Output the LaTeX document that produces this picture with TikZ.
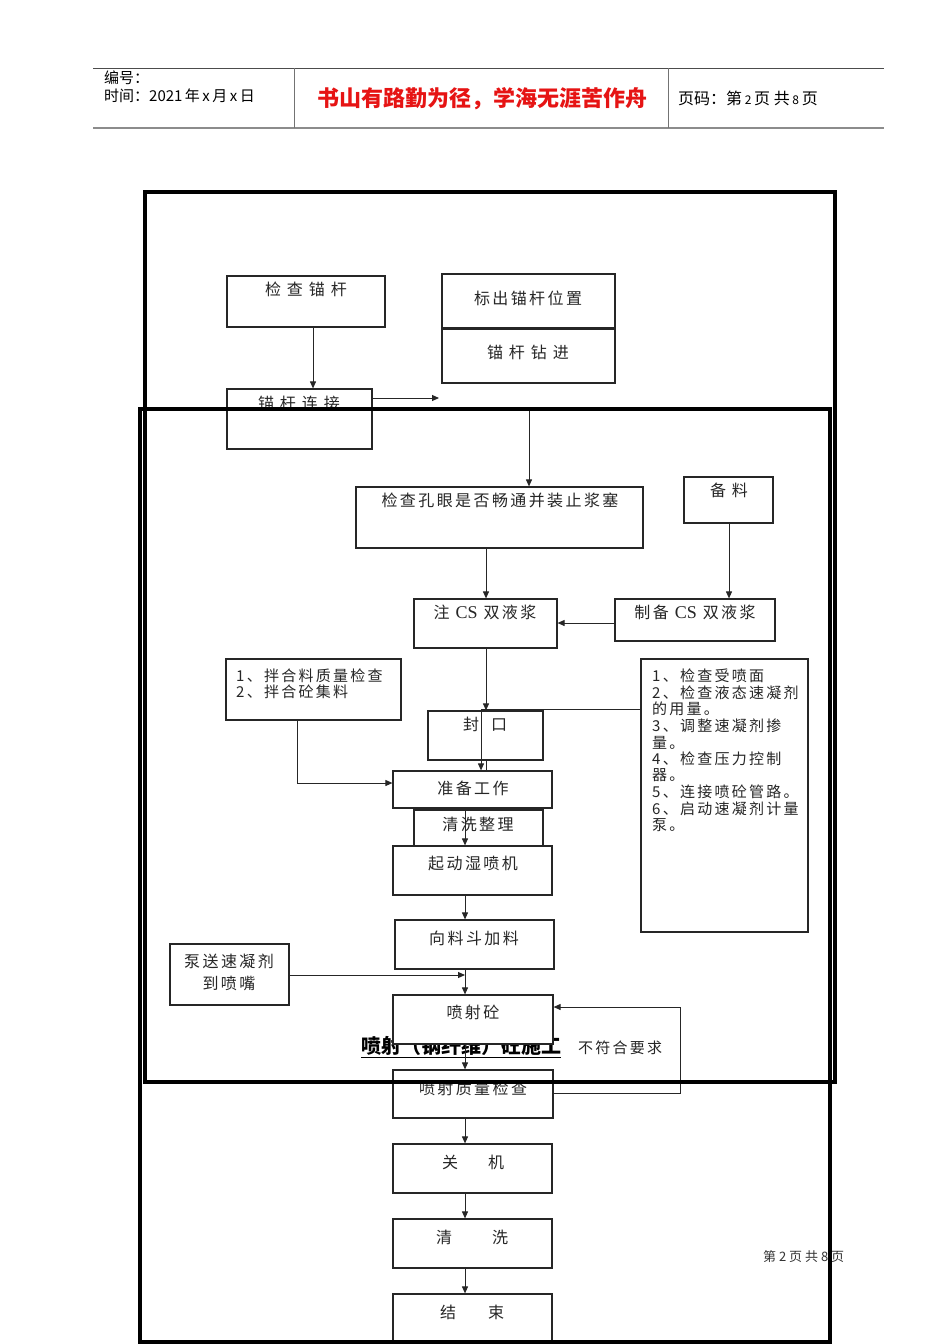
\documentclass[tikz,border=0pt]{standalone}
\usepackage{fontspec}
\setmainfont{Liberation Serif}
\newfontfamily\cjk[LetterSpace=15]{Noto Sans CJK SC}
\newfontfamily\cjkh{Noto Sans CJK SC}
\newfontfamily\lat{Liberation Serif}
\usetikzlibrary{arrows.meta}
\newcommand\bx[5]{\node[box, minimum width={#4-#2}, minimum height={#5-#3}] (#1) at ({(#2+#4)/2},{(#3+#5)/2}) {};}
\begin{document}
\begin{tikzpicture}[x=1pt,y=-1pt,
  box/.style={draw=black!85, line width=1.2pt, inner sep=0pt},
  arr/.style={-{Triangle[length=7pt,width=6pt]}, line width=1pt, draw=black!85},
  ln/.style={line width=1pt, draw=black!85},
  t/.style={font=\cjk\fontsize{16}{16}\selectfont, inner sep=0pt, text=black!85},
  ts/.style={font=\cjk\fontsize{15}{15}\selectfont, inner sep=0pt, text=black!85, anchor=west},
  frame/.style={line width=4pt, draw=black},
  hd/.style={font=\cjkh\fontsize{15}{15}\selectfont, inner sep=0pt, anchor=west}]
\useasboundingbox (0,0) rectangle (950,1344);
\fill[white] (0,0) rectangle (950,1344);

% header
\draw[black!70, line width=1pt] (93,68) -- (884,68);
\draw[black!45, line width=2pt] (93,128) -- (884,128);
\draw[black!55, line width=1pt] (294,68) -- (294,128);
\draw[black!55, line width=1pt] (668,68) -- (668,128);
\node[hd] (h1) at (104,78) {编号：};
\node[hd] (h2) at (104,96) {时间：2021\,年\,x\,月\,x\,日};
\node[font=\cjkh\bfseries\fontsize{22}{22}\selectfont, text={rgb,255:red,230;green,20;blue,20}, inner sep=0pt] (h3) at (482,99) {书山有路勤为径，学海无涯苦作舟};
\node[hd, font=\cjkh\fontsize{16}{16}\selectfont] (h4) at (678,98) {页码：第\,{\fontsize{12}{12}\selectfont 2}\,页 共\,{\fontsize{12}{12}\selectfont 8}\,页};

% lanes
\coordinate (L313) at (313,0);
\coordinate (L486) at (486,0);
\coordinate (L481) at (481,0);
\coordinate (L729) at (729,0);
\coordinate (L465) at (465,0);
\coordinate (L297) at (297,0);
\coordinate (L680) at (680,0);
\coordinate (Y398) at (0,398);
\coordinate (Y623) at (0,623);
\coordinate (Y709) at (0,709);
\coordinate (Y783) at (0,783);
\coordinate (Y975) at (0,975);
\coordinate (Y1007) at (0,1007);
\coordinate (Y1093) at (0,1093);
\coordinate (mgend) at (439,398);
\coordinate (gtop) at (529,411);

% title partly hidden
\node[font=\cjkh\bfseries\fontsize{20}{20}\selectfont, inner sep=0pt, anchor=west] (title) at (361,1047) {\underline{喷射（钢纤维）砼施工}};
\fill[white] (565,1033) rectangle (674,1062);
\node[ts] (bfh) at (578,1048) {不符合要求};

% boxes
\bx{jcmg}{227}{276}{385}{327}
\bx{bcwz}{442}{274}{615}{328}
\bx{mgzj}{442}{329}{615}{383}
\bx{mglj}{227}{389}{372}{449}
\bx{jcky}{356}{487}{643}{548}
\bx{bl}{684}{477}{773}{523}
\bx{zbcs}{615}{599}{775}{641}
\bx{zcs}{414}{599}{557}{648}
\bx{bhl}{226}{659}{401}{720}
\bx{rbox}{641}{659}{808}{932}
\bx{fk}{428}{711}{543}{760}
\bx{zbgz}{393}{771}{552}{808}
\bx{qxzl}{414}{810}{543}{846}
\bx{qdsp}{393}{846}{552}{895}
\bx{xldjl}{395}{920}{554}{969}
\bx{bssnj}{170}{944}{289}{1005}
\node[box, fill=white, minimum width=160, minimum height=49] (psc) at (473,1019.5) {};
\bx{pszl}{393}{1070}{553}{1118}
\bx{gj}{393}{1144}{552}{1193}
\bx{qx}{393}{1219}{552}{1268}
\bx{js}{393}{1294}{552}{1352}

% texts
\node[t] (t1) at (306,289) {检 查 锚 杆};
\node[t] (t2) at (528,298) {标出锚杆位置};
\node[t] (t3) at (528,352) {锚 杆 钻 进};
\node[t] (t4) at (299,403) {锚 杆 连 接};
\node[t] (t5) at (500,500) {检查孔眼是否畅通并装止浆塞};
\node[t] (t6) at (729,490) {备 料};
\node[t] (t7) at (695,612) {制备 {\lat\fontsize{18}{18}\selectfont CS} 双液浆};
\node[t] (t8) at (485,612) {注 {\lat\fontsize{18}{18}\selectfont CS} 双液浆};
\node[ts] (t9) at (236,676) {1、拌合料质量检查};
\node[ts] (t10) at (236,692) {2、拌合砼集料};
\node[ts] (r1) at (652,676) {1、检查受喷面};
\node[ts] (r2) at (652,692.6) {2、检查液态速凝剂};
\node[ts] (r3) at (652,709.2) {的用量。};
\node[ts] (r4) at (652,725.8) {3、调整速凝剂掺};
\node[ts] (r5) at (652,742.4) {量。};
\node[ts] (r6) at (652,759) {4、检查压力控制};
\node[ts] (r7) at (652,775.6) {器。};
\node[ts] (r8) at (652,792.2) {5、连接喷砼管路。};
\node[ts] (r9) at (652,808.8) {6、启动速凝剂计量};
\node[ts] (r10) at (652,825.4) {泵。};
\node[t] (t11) at (485,724) {封\hspace{12pt}口};
\node[t] (t12) at (473,788) {准备工作};
\node[t] (t13) at (478,824) {清洗整理};
\node[t] (t14) at (473,863) {起动湿喷机};
\node[t] (t15) at (474,938) {向料斗加料};
\node[t] (t16) at (229,961) {泵送速凝剂};
\node[t] (t17) at (229,983) {到喷嘴};
\node[t] (t18) at (473,1012) {喷射砼};
\node[t] (t19) at (473,1088) {喷射质量检查};
\node[t] (t20) at (473,1162) {关\hspace{30pt}机};
\node[t] (t21) at (472,1237) {清\hspace{40pt}洗};
\node[t] (t22) at (472,1312) {结\hspace{32pt}束};
\node[font=\cjkh\fontsize{13}{13}\selectfont, text=black!80, inner sep=0pt, anchor=west] (foot) at (763,1257) {第 2 页 共 8 页};

% connectors
\draw[arr] (L313 |- jcmg.south) -- (L313 |- mglj.north);
\draw[arr] (Y398 -| mglj.east) -- (mgend);
\draw[arr] (gtop) -- (gtop |- jcky.north);
\draw[arr] (L486 |- jcky.south) -- (L486 |- zcs.north);
\draw[arr] (L729 |- bl.south) -- (L729 |- zbcs.north);
\draw[arr] (Y623 -| zbcs.west) -- (Y623 -| zcs.east);
\draw[arr] (L486 |- zcs.south) -- (L486 |- fk.north);
\draw[arr] (Y709 -| rbox.west) -- (L481 |- Y709) -- (L481 |- zbgz.north);
\draw[ln] (L486 |- fk.south) -- (L486 |- zbgz.north);
\draw[arr] (L297 |- bhl.south) -- (L297 |- Y783) -- (Y783 -| zbgz.west);
\draw[arr] (L465 |- zbgz.south) -- (L465 |- qdsp.north);
\draw[arr] (L465 |- qdsp.south) -- (L465 |- xldjl.north);
\draw[arr] (L465 |- xldjl.south) -- (L465 |- psc.north);
\draw[arr] (Y975 -| bssnj.east) -- (L465 |- Y975);
\draw[arr] (L465 |- psc.south) -- (L465 |- pszl.north);
\draw[arr] (Y1093 -| pszl.east) -- (L680 |- Y1093) -- (L680 |- Y1007) -- (Y1007 -| psc.east);
\draw[arr] (L465 |- pszl.south) -- (L465 |- gj.north);
\draw[arr] (L465 |- gj.south) -- (L465 |- qx.north);
\draw[arr] (L465 |- qx.south) -- (L465 |- js.north);

% frames
\draw[frame] (145,192) rectangle (835,1082);
\draw[frame] (140,409) rectangle (830,1342);
\end{tikzpicture}
\end{document}
